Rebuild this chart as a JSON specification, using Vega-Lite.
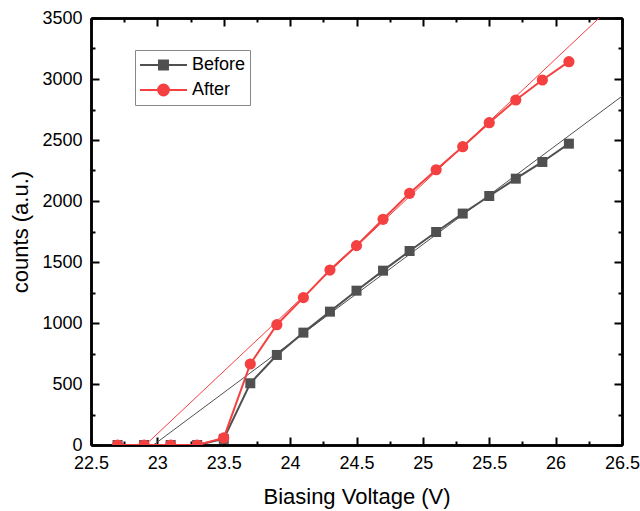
{
  "$schema": "https://vega.github.io/schema/vega-lite/v6.json",
  "width": 531,
  "height": 427,
  "autosize": {"type": "none"},
  "padding": {"left": 91, "top": 18, "right": 18, "bottom": 66},
  "background": "white",
  "config": {
    "view": {"stroke": null},
    "axis": {
      "labelFont": "Liberation Sans",
      "labelFontSize": 18,
      "labelColor": "black",
      "titleFont": "Liberation Sans",
      "titleFontSize": 22,
      "titleFontWeight": "normal",
      "titleColor": "black",
      "domainColor": "black",
      "domainWidth": 2.5,
      "tickColor": "black",
      "tickWidth": 2,
      "grid": false,
      "zindex": 1
    }
  },
  "datasets": {
    "meas": [
      {"series": "Before", "voltage": 22.7, "counts": 0},
      {"series": "Before", "voltage": 22.9, "counts": 0},
      {"series": "Before", "voltage": 23.1, "counts": 0},
      {"series": "Before", "voltage": 23.3, "counts": 0},
      {"series": "Before", "voltage": 23.5, "counts": 50},
      {"series": "Before", "voltage": 23.7, "counts": 506},
      {"series": "Before", "voltage": 23.9, "counts": 738},
      {"series": "Before", "voltage": 24.1, "counts": 921},
      {"series": "Before", "voltage": 24.3, "counts": 1093},
      {"series": "Before", "voltage": 24.5, "counts": 1265},
      {"series": "Before", "voltage": 24.7, "counts": 1429},
      {"series": "Before", "voltage": 24.9, "counts": 1590},
      {"series": "Before", "voltage": 25.1, "counts": 1746},
      {"series": "Before", "voltage": 25.3, "counts": 1897},
      {"series": "Before", "voltage": 25.5, "counts": 2041},
      {"series": "Before", "voltage": 25.7, "counts": 2183},
      {"series": "Before", "voltage": 25.9, "counts": 2320},
      {"series": "Before", "voltage": 26.1, "counts": 2470},
      {"series": "After", "voltage": 22.7, "counts": 0},
      {"series": "After", "voltage": 22.9, "counts": 0},
      {"series": "After", "voltage": 23.1, "counts": 0},
      {"series": "After", "voltage": 23.3, "counts": 0},
      {"series": "After", "voltage": 23.5, "counts": 58},
      {"series": "After", "voltage": 23.7, "counts": 664},
      {"series": "After", "voltage": 23.9, "counts": 986},
      {"series": "After", "voltage": 24.1, "counts": 1208},
      {"series": "After", "voltage": 24.3, "counts": 1434},
      {"series": "After", "voltage": 24.5, "counts": 1634},
      {"series": "After", "voltage": 24.7, "counts": 1850},
      {"series": "After", "voltage": 24.9, "counts": 2063},
      {"series": "After", "voltage": 25.1, "counts": 2256},
      {"series": "After", "voltage": 25.3, "counts": 2445},
      {"series": "After", "voltage": 25.5, "counts": 2642},
      {"series": "After", "voltage": 25.7, "counts": 2828},
      {"series": "After", "voltage": 25.9, "counts": 2992},
      {"series": "After", "voltage": 26.1, "counts": 3142}
    ],
    "fit": [
      {"series": "Before", "voltage": 22.97, "counts": 0},
      {"series": "Before", "voltage": 26.5, "counts": 2859},
      {"series": "After", "voltage": 22.91, "counts": 0},
      {"series": "After", "voltage": 26.5, "counts": 3676}
    ]
  },
  "layer": [
    {
      "data": {"name": "fit"},
      "transform": [{"filter": "datum.series === 'Before'"}],
      "mark": {"type": "line", "strokeWidth": 1, "color": "#505050", "clip": true},
      "encoding": {
        "x": {"field": "voltage", "type": "quantitative", "scale": {"domain": [22.5, 26.5], "nice": false, "zero": false},
          "axis": {"orient": "bottom", "title": "Biasing Voltage (V)", "values": [22.5, 23, 23.5, 24, 24.5, 25, 25.5, 26, 26.5], "format": "~g", "tickSize": -8, "labelPadding": 17, "titlePadding": 14, "labelFlush": false, "labelOverlap": false}},
        "y": {"field": "counts", "type": "quantitative", "scale": {"domain": [0, 3500], "nice": false},
          "axis": {"orient": "left", "title": "counts (a.u.)", "values": [0, 500, 1000, 1500, 2000, 2500, 3000, 3500], "format": "d", "tickSize": -8, "labelPadding": 17, "titlePadding": 9, "labelFlush": false, "labelOverlap": false}}
      }
    },
    {
      "data": {"name": "fit"},
      "transform": [{"filter": "datum.series === 'After'"}],
      "mark": {"type": "line", "strokeWidth": 1, "color": "#f44040", "clip": true},
      "encoding": {
        "x": {"field": "voltage", "type": "quantitative",
          "axis": {"orient": "top", "title": null, "labels": false, "values": [22.5, 23, 23.5, 24, 24.5, 25, 25.5, 26, 26.5], "tickSize": -8}},
        "y": {"field": "counts", "type": "quantitative",
          "axis": {"orient": "right", "title": null, "labels": false, "values": [0, 500, 1000, 1500, 2000, 2500, 3000, 3500], "tickSize": -8}}
      }
    },
    {
      "data": {"name": "meas"},
      "mark": {"type": "line", "strokeWidth": 2, "clip": true},
      "encoding": {
        "x": {"field": "voltage", "type": "quantitative",
          "axis": {"orient": "bottom", "title": null, "labels": false, "values": [22.75, 23.25, 23.75, 24.25, 24.75, 25.25, 25.75, 26.25], "tickSize": -4}},
        "y": {"field": "counts", "type": "quantitative",
          "axis": {"orient": "left", "title": null, "labels": false, "values": [250, 750, 1250, 1750, 2250, 2750, 3250], "tickSize": -4}},
        "color": {"field": "series", "type": "nominal", "sort": ["Before", "After"],
          "scale": {"domain": ["Before", "After"], "range": ["#505050", "#f44040"]},
          "legend": {
            "title": null,
            "orient": "none",
            "legendX": 44,
            "legendY": 32,
            "padding": 4,
            "strokeColor": "#888888",
            "fillColor": "white",
            "labelFont": "Liberation Sans",
            "labelFontSize": 18,
            "labelColor": "black",
            "labelOffset": 4,
            "symbolSize": 2209,
            "symbolStrokeWidth": 2,
            "clipHeight": 22,
            "rowPadding": 3,
            "encode": {
              "symbols": {
                "update": {
                  "shape": {"signal": "datum.value === 'Before' ? 'M-1,0H1M-0.19,-0.19H0.19V0.19H-0.19Z' : 'M-1,0H1M0.23,0A0.23,0.23 0 1 1 -0.23,0A0.23,0.23 0 1 1 0.23,0Z'"},
                  "fill": {"scale": "color", "field": "value"},
                  "stroke": {"scale": "color", "field": "value"},
                  "opacity": {"value": 1},
                  "strokeWidth": {"value": 2}
                }
              }
            }
          }
        }
      }
    },
    {
      "data": {"name": "meas"},
      "transform": [{"filter": "datum.series === 'Before'"}],
      "mark": {"type": "point", "shape": "square", "size": 100, "filled": true, "opacity": 1, "color": "#505050", "clip": true},
      "encoding": {
        "x": {"field": "voltage", "type": "quantitative",
          "axis": {"orient": "top", "title": null, "labels": false, "values": [22.75, 23.25, 23.75, 24.25, 24.75, 25.25, 25.75, 26.25], "tickSize": -4}},
        "y": {"field": "counts", "type": "quantitative",
          "axis": {"orient": "right", "title": null, "labels": false, "values": [250, 750, 1250, 1750, 2250, 2750, 3250], "tickSize": -4}}
      }
    },
    {
      "data": {"name": "meas"},
      "transform": [{"filter": "datum.series === 'After'"}],
      "mark": {"type": "point", "shape": "circle", "size": 125, "filled": true, "opacity": 1, "color": "#f44040", "clip": true},
      "encoding": {
        "x": {"field": "voltage", "type": "quantitative", "axis": null},
        "y": {"field": "counts", "type": "quantitative", "axis": null}
      }
    }
  ],
  "resolve": {"axis": {"x": "independent", "y": "independent"}}
}
